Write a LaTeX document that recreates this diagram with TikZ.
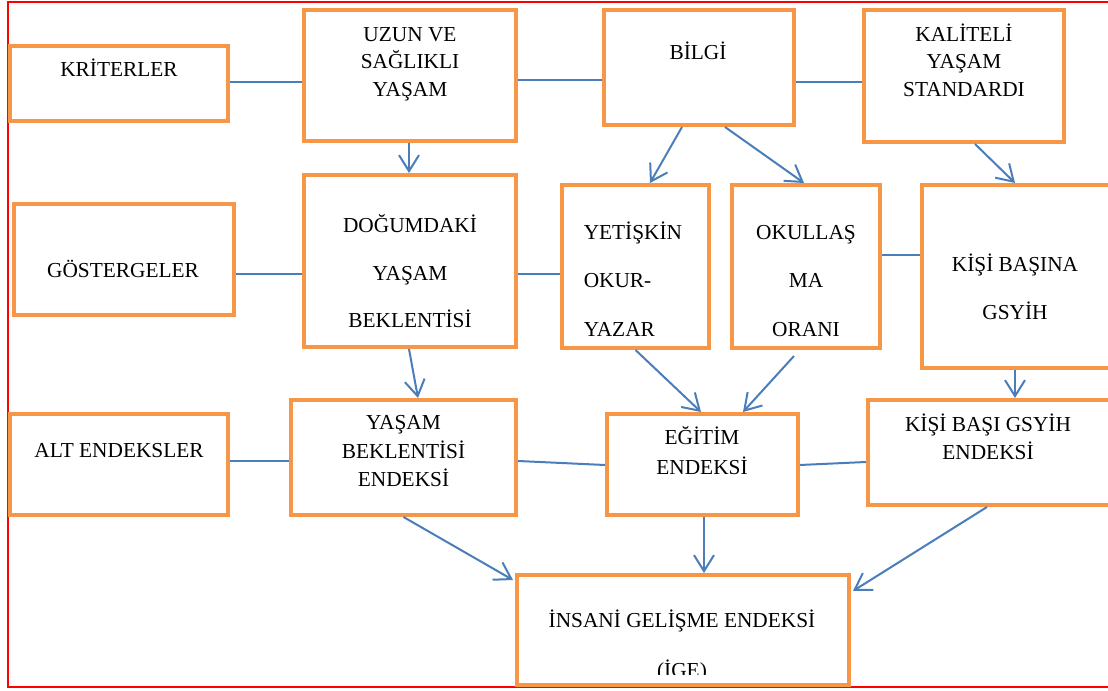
\documentclass[tikz,border=0pt]{standalone}
\usepackage{fontspec}
\setmainfont{Liberation Serif}
\usetikzlibrary{arrows.meta,calc}
\definecolor{boxor}{HTML}{F79646}
\definecolor{lnblue}{HTML}{4A7EBB}
\definecolor{frred}{HTML}{FF0000}
\tikzset{
  box/.style={draw=boxor, line width=3pt, fill=white, rectangle, inner sep=0pt},
  lbl/.style={anchor=base, inner sep=0pt, font=\fontsize{16}{19}\selectfont},
  lblL/.style={lbl, anchor=base west},
  conn/.style={draw=lnblue, line width=1.5pt},
  arr/.style={conn, -{Straight Barb[length=12pt,width=15pt]}},
}
\newcommand\bx[5]{\node[box, minimum width=#4*0.75pt, minimum height=#5*0.75pt] (#1) at (#2,#3) {};}
\begin{document}
\begin{tikzpicture}[x=0.75pt,y=-0.75pt]
\useasboundingbox (0,0) rectangle (1108,691);
\begin{scope}
  \clip (0,0) rectangle (1108,691);
  \draw[frred, line width=1.5pt] (8,2) rectangle (1114,687);
\end{scope}

% boxes
\bx{krit}{119}{83.5}{218}{75}
\bx{uzun}{410}{75.5}{212}{131}
\bx{bilgi}{699}{67.5}{190}{115}
\bx{kalit}{964}{76}{200}{132}
\bx{gost}{124}{259.5}{220}{111}
\bx{dogum}{410}{261}{212}{172}
\bx{yetis}{635.5}{266.5}{147}{163}
\bx{okul}{806}{266.5}{148}{163}
\bx{kisi}{1015.75}{276.5}{187.5}{183}
\bx{alt}{119}{464.5}{218}{101}
\bx{yasam}{403.5}{457.5}{225}{115}
\bx{egitim}{702.5}{464.5}{191}{101}
\bx{kisibasi}{988.75}{452.5}{241.5}{105}
\bx{ige}{683}{630}{332}{110}

% texts
\node[lbl] (tkrit) at (119,77) {KRİTERLER};
\node[lbl] (tuzun1) at (410,42) {UZUN VE};
\node[lbl] (tuzun2) at (410,69) {SAĞLIKLI};
\node[lbl] (tuzun3) at (410,97) {YAŞAM};
\node[lbl] (tbilgi) at (698,60) {BİLGİ};
\node[lbl] (tkalit1) at (964,42) {KALİTELİ};
\node[lbl] (tkalit2) at (964,69) {YAŞAM};
\node[lbl] (tkalit3) at (964,97) {STANDARDI};
\node[lbl] (tgost) at (123,278) {GÖSTERGELER};
\node[lbl] (tdogum1) at (410,233) {DOĞUMDAKİ};
\node[lbl] (tdogum2) at (410,281) {YAŞAM};
\node[lbl] (tdogum3) at (410,328) {BEKLENTİSİ};
\node[lblL] (tyetis1) at (583.5,240) {YETİŞKİN};
\node[lblL] (tyetis2) at (583.5,288) {OKUR-};
\node[lblL] (tyetis3) at (583.5,337) {YAZAR};
\node[lbl] (tokul1) at (806,240) {OKULLAŞ};
\node[lbl] (tokul2) at (806,288) {MA};
\node[lbl] (tokul3) at (806,337) {ORANI};
\node[lbl] (tkisi1) at (1015,272) {KİŞİ BAŞINA};
\node[lbl] (tkisi2) at (1015,320) {GSYİH};
\node[lbl] (talt) at (119,458) {ALT ENDEKSLER};
\node[lbl] (tyasam1) at (403.5,430) {YAŞAM};
\node[lbl] (tyasam2) at (403.5,459) {BEKLENTİSİ};
\node[lbl] (tyasam3) at (403.5,487) {ENDEKSİ};
\node[lbl] (tegitim1) at (702,445) {EĞİTİM};
\node[lbl] (tegitim2) at (702,475) {ENDEKSİ};
\node[lbl] (tkisibasi1) at (988,432) {KİŞİ BAŞI GSYİH};
\node[lbl] (tkisibasi2) at (988,460) {ENDEKSİ};
\node[lbl] (tige1) at (682,628) {İNSANİ GELİŞME ENDEKSİ};
\begin{scope}
  \clip (517,575) rectangle (849,675);
  \node[lbl] (tige2) at (682,677) {(İGE)};
\end{scope}

% plain connectors
\draw[conn] ($(krit.east)+(0,-1.5)$) -- ($(uzun.west)+(0,6.5)$);
\draw[conn] ($(uzun.east)+(0,4.5)$) -- ($(bilgi.west)+(0,12.5)$);
\draw[conn] ($(bilgi.east)+(0,14.5)$) -- ($(kalit.west)+(0,6)$);
\draw[conn] ($(gost.east)+(0,14.5)$) -- ($(dogum.west)+(0,13)$);
\draw[conn] ($(dogum.east)+(0,13)$) -- ($(yetis.west)+(0,7.5)$);
\draw[conn] ($(okul.east)+(0,-11.5)$) -- ($(kisi.west)+(0,-21.5)$);
\draw[conn] ($(alt.east)+(0,-3.5)$) -- ($(yasam.west)+(0,3.5)$);
\draw[conn] ($(yasam.east)+(0,3.5)$) -- ($(egitim.west)+(0,0.5)$);
\draw[conn] ($(egitim.east)+(0,0.5)$) -- ($(kisibasi.west)+(0,9.5)$);

% arrows
\draw[arr] ($(uzun.south)+(-1,0)$) -- ($(dogum.north)+(-1,0)$);
\draw[arr] ($(bilgi.south)+(-17,0)$) -- ($(yetis.north)+(14.5,0)$);
\draw[arr] ($(bilgi.south)+(26,0)$) -- ($(okul.north)+(-2,0)$);
\draw[arr] ($(kalit.south)+(11,0)$) -- ($(kisi.north)+(-0.75,0)$);
\draw[arr] ($(dogum.south)+(-1,0)$) -- ($(yasam.north)+(14.5,0)$);
\draw[arr] (yetis.south) -- ($(egitim.north)+(-1.5,0)$);
\draw[arr] ($(okul.south)+(-12,6)$) -- ($(egitim.north)+(40.5,0)$);
\draw[arr] ($(kisi.south)+(-0.75,0)$) -- ($(kisibasi.north)+(26.25,0)$);
\draw[arr] (yasam.south) -- ($(ige.north west)+(-2,7)$);
\draw[arr] ($(egitim.south)+(1.5,0)$) -- ($(ige.north)+(21,0)$);
\draw[arr] ($(kisibasi.south)+(-1.75,0)$) -- ($(ige.north east)+(2,18)$);
\end{tikzpicture}
\end{document}
